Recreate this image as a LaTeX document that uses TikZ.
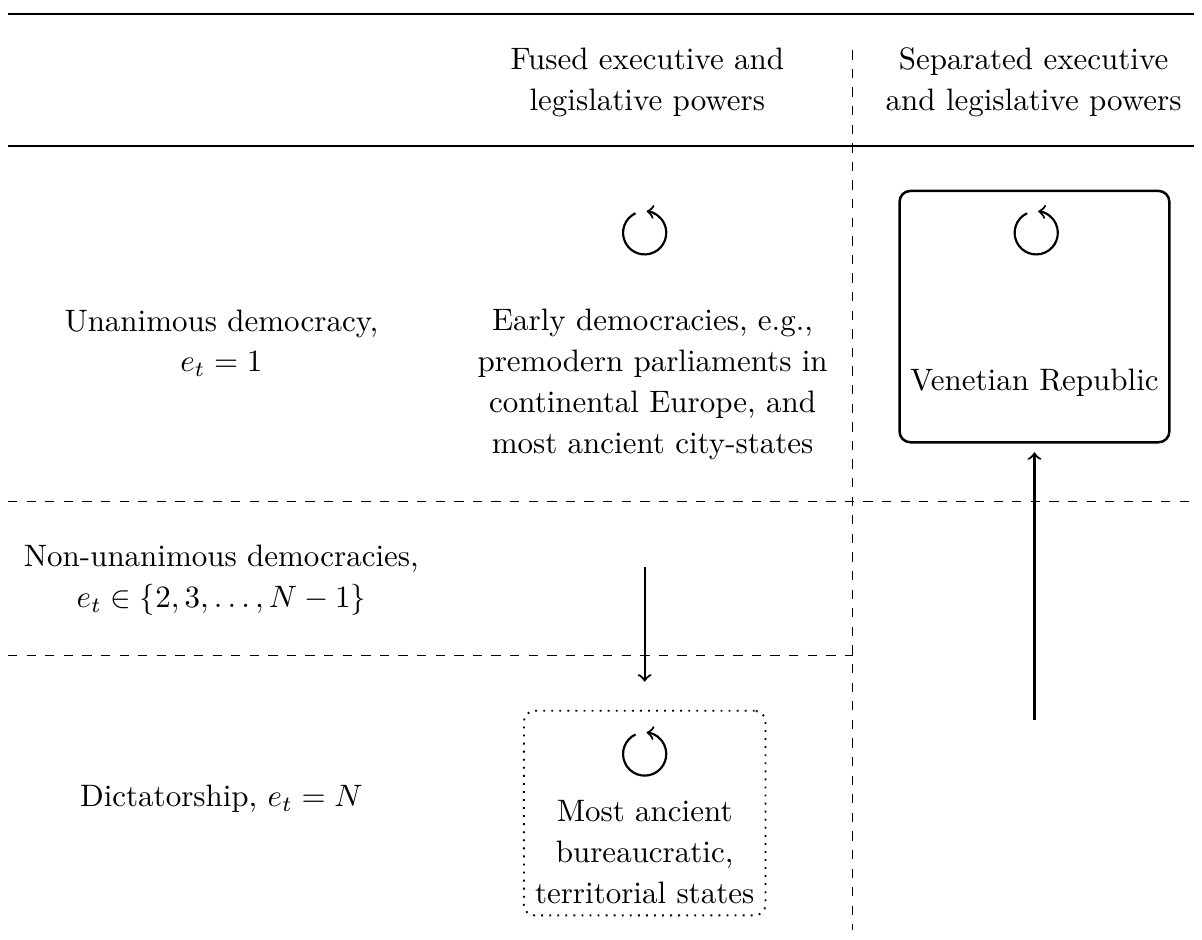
\documentclass[tikz,border=0pt]{standalone}
\usepackage{amsmath,amssymb}
\usetikzlibrary{positioning}

\begin{document}
\begin{tikzpicture}[on grid,
	cell/.style={align=center,font=\linespread{1.1}\selectfont,inner sep=0pt},
	heavy rule/.style={line width=0.8pt},
	light rule/.style={line width=0.5pt},
	sep/.style={dashed,line width=0.4pt},
	flow/.style={->,line width=0.7pt},
	loop arrow/.pic={\draw[->,line width=0.7pt] (115:0.245) arc (115:445:0.245);}] 
	\useasboundingbox (0,0) rectangle (13.63,-10.65);
	% table rules
	\draw[heavy rule] (0.09,-0.16) -- (13.54,-0.16);
	\draw[light rule] (0.09,-1.655) -- (13.54,-1.655);
	\draw[sep] (0.09,-5.69) -- (13.54,-5.69);
	\draw[sep] (0.09,-7.43) -- (9.67,-7.43);
	\draw[sep] (9.67,-0.57) -- (9.67,-10.54);
	% headers
	\node[cell] (hd_fused) at (7.34,-0.93) {Fused executive and\\legislative powers};
	\node[cell] (hd_sep) at (11.72,-0.93) {Separated executive\\and legislative powers};
	% rows
	\node[cell] (row_unan) at (2.51,-3.89) {Unanimous democracy,\\$e_t=1$};
	\node[cell] (row_nonunan) at (2.51,-6.58) {Non-unanimous democracies,\\$e_t\in\{2,3,\ldots,N-1\}$};
	\node[cell] (row_dict) at (2.51,-9.06) {Dictatorship, $e_t=N$};
	% cells
	\node[cell] (early) at (7.40,-4.36) {Early democracies, e.g.,\\premodern parliaments in\\continental Europe, and\\most ancient city-states};
	\node[cell] (venice) at (11.73,-4.34) {Venetian Republic};
	\node[cell] (ancient) at (7.31,-9.66) {Most ancient\\bureaucratic,\\territorial states};
	\node[draw,thick,rounded corners=3.5pt,minimum width=3.06cm,minimum height=2.85cm] (venice_box) at (11.73,-3.59) {};
	\node[draw,dotted,semithick,rounded corners=3.5pt,minimum width=2.74cm,minimum height=2.32cm] (ancient_box) at (7.31,-9.22) {};
	\pic at (7.31,-2.64) {loop arrow};
	\pic at (11.75,-2.64) {loop arrow};
	\pic at (7.31,-8.55) {loop arrow};
	% transitions
	\coordinate (fall_start) at (7.31,-6.43);
	\coordinate (rise_start) at (11.73,-8.16);
	\draw[flow,shorten >=0.32cm] (fall_start) -- (ancient_box.north);
	\draw[flow,shorten >=0.1cm] (rise_start) -- (venice_box.south);
\end{tikzpicture}
\end{document}
